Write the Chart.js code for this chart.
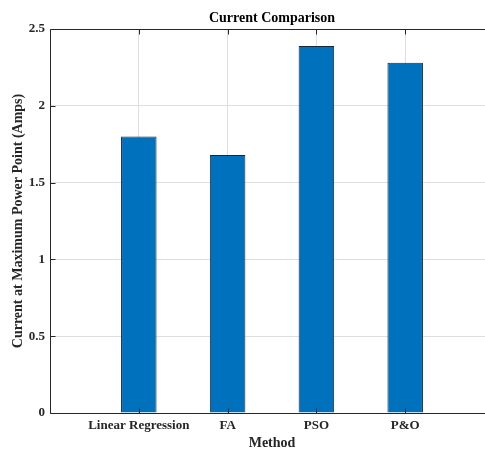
<!DOCTYPE html>
<html>
<head>
<meta charset="utf-8">
<script src="https://cdn.jsdelivr.net/npm/chart.js@4/dist/chart.umd.min.js"></script>
<style>
  html, body { margin: 0; padding: 0; background: #fff; overflow: hidden; }
  #wrap { width: 485px; height: 450px; overflow: hidden; }
  #currentChart { display: block; }
</style>
</head>
<body>
<div id="wrap"><canvas id="currentChart" width="495" height="450"></canvas></div>
<script>
const methods = ["Linear Regression", "FA", "PSO", "P&O"];
const currents = [1.80, 1.68, 2.39, 2.28];
const yTicks = [0, 0.5, 1, 1.5, 2, 2.5];

// MATLAB style: empty slot on both ends of the category axis
const slots = ["", ...methods, ""];
const slotValues = [null, ...currents, null];

const FONT = "'Liberation Serif', 'Times New Roman', serif";
const INK = "#262626";
const GRID = "#dfdfdf";

// inward tick marks + axes lines, drawn over the bars
// (the right side of the box is cut off in the original figure)
const boxPlugin = {
  id: "matlabBox",
  afterDraw(chart) {
    const { ctx, chartArea: a, scales } = chart;
    const L = Math.floor(a.left) + 0.5, R = a.right;
    const T = Math.floor(a.top) + 0.5, B = Math.floor(a.bottom) + 0.5;
    ctx.save();
    ctx.strokeStyle = INK;
    ctx.lineWidth = 1;
    ctx.beginPath();
    ctx.moveTo(L, T); ctx.lineTo(R, T);
    ctx.moveTo(L, B); ctx.lineTo(R, B);
    ctx.moveTo(L, T); ctx.lineTo(L, B);
    const tick = 5;
    for (let i = 1; i < slots.length - 1; i++) {
      const x = Math.round(scales.x.getPixelForValue(i)) + 0.5;
      ctx.moveTo(x, B); ctx.lineTo(x, B - tick);
      ctx.moveTo(x, T); ctx.lineTo(x, T + tick);
    }
    for (const v of yTicks) {
      const y = Math.round(scales.y.getPixelForValue(v)) + 0.5;
      ctx.moveTo(L, y); ctx.lineTo(L + tick, y);
    }
    ctx.stroke();
    ctx.restore();
  }
};

new Chart(document.getElementById("currentChart"), {
  type: "bar",
  data: {
    labels: slots,
    datasets: [{
      label: "Current",
      data: slotValues,
      backgroundColor: "#0072BD",
      borderColor: "#17293a",
      borderWidth: 1,
      barPercentage: 0.4,
      categoryPercentage: 1
    }]
  },
  options: {
    responsive: false,
    animation: false,
    layout: { padding: { left: 0, right: 1, top: 0, bottom: 0 } },
    plugins: {
      legend: { display: false },
      tooltip: { enabled: false },
      title: { display: false }
    },
    scales: {
      x: {
        type: "category",
        position: "bottom",
        offset: false,
        // invisible outward ticks give the label gap without side padding
        grid: { color: GRID, drawTicks: true, tickLength: 5, tickColor: "rgba(0,0,0,0)", offset: false },
        border: { display: false },
        ticks: {
          autoSkip: false,
          maxRotation: 0,
          padding: 0,
          color: INK,
          font: { family: FONT, size: 13, weight: "bold" }
        },
        title: {
          display: true,
          text: "Method",
          color: INK,
          padding: { top: 0, bottom: 0 },
          font: { family: FONT, size: 14, weight: "bold", lineHeight: 1 }
        },
        afterFit: s => { s.height = 37; }
      },
      top: {
        type: "linear",
        axis: "x",
        position: "top",
        min: 0,
        max: 1,
        grid: { display: false },
        border: { display: false },
        ticks: { display: false },
        title: {
          display: true,
          text: "Current Comparison",
          color: "#000",
          padding: { top: 11, bottom: 0 },
          font: { family: FONT, size: 14, weight: "bold", lineHeight: 1 }
        },
        afterFit: s => { s.height = 29; }
      },
      y: {
        min: 0,
        max: 2.5,
        grid: { color: GRID, drawTicks: false },
        border: { display: false },
        ticks: {
          stepSize: 0.5,
          padding: 5,
          color: INK,
          font: { family: FONT, size: 13, weight: "bold" },
          callback: v => String(v)
        },
        title: {
          display: true,
          text: "Current at Maximum Power Point (Amps)",
          color: INK,
          padding: { top: 11, bottom: 0 },
          font: { family: FONT, size: 14, weight: "bold", lineHeight: 1 }
        },
        afterFit: s => { s.width = 50; }
      }
    }
  },
  plugins: [boxPlugin]
});
</script>
</body>
</html>
